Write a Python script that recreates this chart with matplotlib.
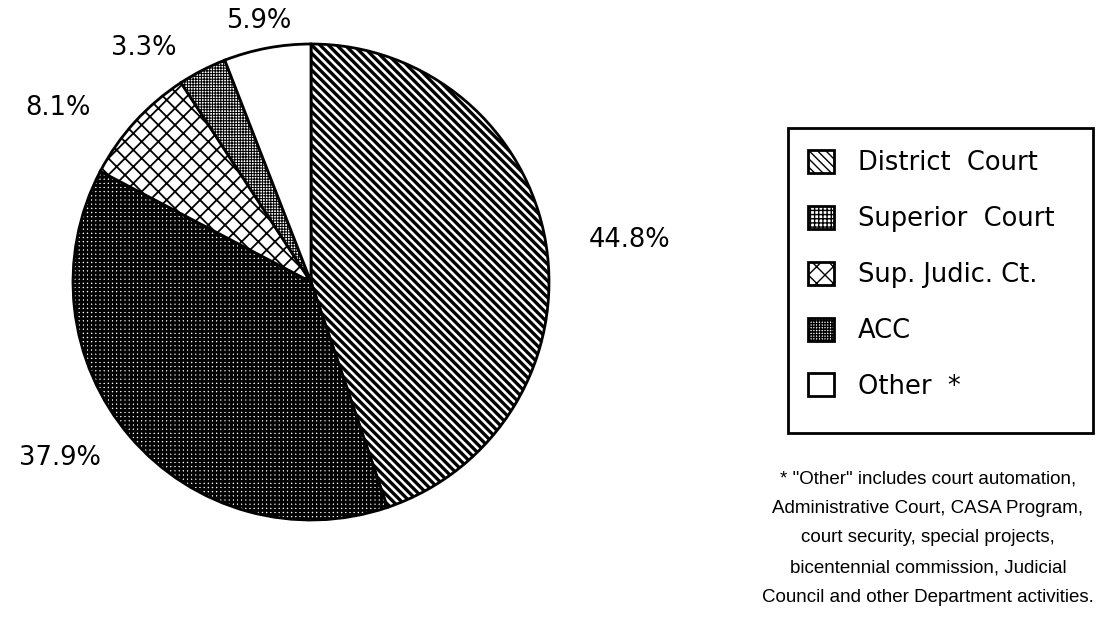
import numpy as np
import matplotlib
matplotlib.use("Agg")
import matplotlib.pyplot as plt
from matplotlib.patches import Patch, Rectangle

# slices, clockwise from 12 o'clock
courts = ["District  Court", "Superior  Court", "Sup. Judic. Ct.", "ACC", "Other  *"]
shares = [44.8, 37.9, 8.1, 3.3, 5.9]
pct_labels = ["44.8%", "37.9%", "8.1%", "3.3%", "5.9%"]
footnote = ('* "Other" includes court automation,\n'
            'Administrative Court, CASA Program,\n'
            'court security, special projects,\n'
            'bicentennial commission, Judicial\n'
            'Council and other Department activities.')

hatches = ["\\\\\\\\", "++++", "xx", "++++++", ""]
hatch_lw = [2.4, 2.0, 1.3, 0.75, 1.0]
# label placement: radius factor and angle nudge (deg) from wedge middle
lab_r = [1.35, 1.29, 1.29, 1.21, 1.12]
lab_dt = [-1.9, -5.5, 7.8, 8.4, 0.8]

W, H = 1103, 635
fig = plt.figure(figsize=(W / 100, H / 100), dpi=100)
ax = fig.add_axes([0, 0, 1, 1])

cx, cy, R = 311, H - 282, 238
wedges, _ = ax.pie(shares, center=(cx, cy), radius=R, startangle=90,
                   counterclock=False, colors=["white"] * 5,
                   wedgeprops=dict(edgecolor="black", linewidth=2))
for w, h, lw in zip(wedges, hatches, hatch_lw):
    w.set_hatch(h)
    if hasattr(w, "set_hatch_linewidth"):
        w.set_hatch_linewidth(lw)

for w, lab, rf, dt in zip(wedges, pct_labels, lab_r, lab_dt):
    mid = np.deg2rad((w.theta1 + w.theta2) / 2 + dt)
    ax.text(cx + rf * R * np.cos(mid), cy + rf * R * np.sin(mid), lab,
            ha="center", va="center", fontsize=18.5, family="DejaVu Sans")

ax.set_xlim(0, W)
ax.set_ylim(0, H)
ax.set_aspect("equal")
ax.axis("off")

# legend
handles = []
for lab, h, lw in zip(courts, hatches, hatch_lw):
    p = Patch(facecolor="white", edgecolor="black", hatch=h, linewidth=2, label=lab)
    if hasattr(p, "set_hatch_linewidth"):
        p.set_hatch_linewidth(lw)
    handles.append(p)
fig.legend(handles=handles, loc="upper left",
           bbox_to_anchor=(808 / W, 1 - 150 / H), frameon=False,
           prop=dict(family="DejaVu Sans", size=18.5), borderpad=0,
           borderaxespad=0, handlelength=1.0, handleheight=1.0,
           handletextpad=0.95, labelspacing=1.15)
ax.add_patch(Rectangle((788, H - 433), 305, 305, fill=False,
                       edgecolor="black", linewidth=2))

ax.text(928, H - 470, footnote, ha="center", va="top", fontsize=13.5,
        family="Liberation Sans", linespacing=1.98)

fig.savefig("out.png", dpi=100)
